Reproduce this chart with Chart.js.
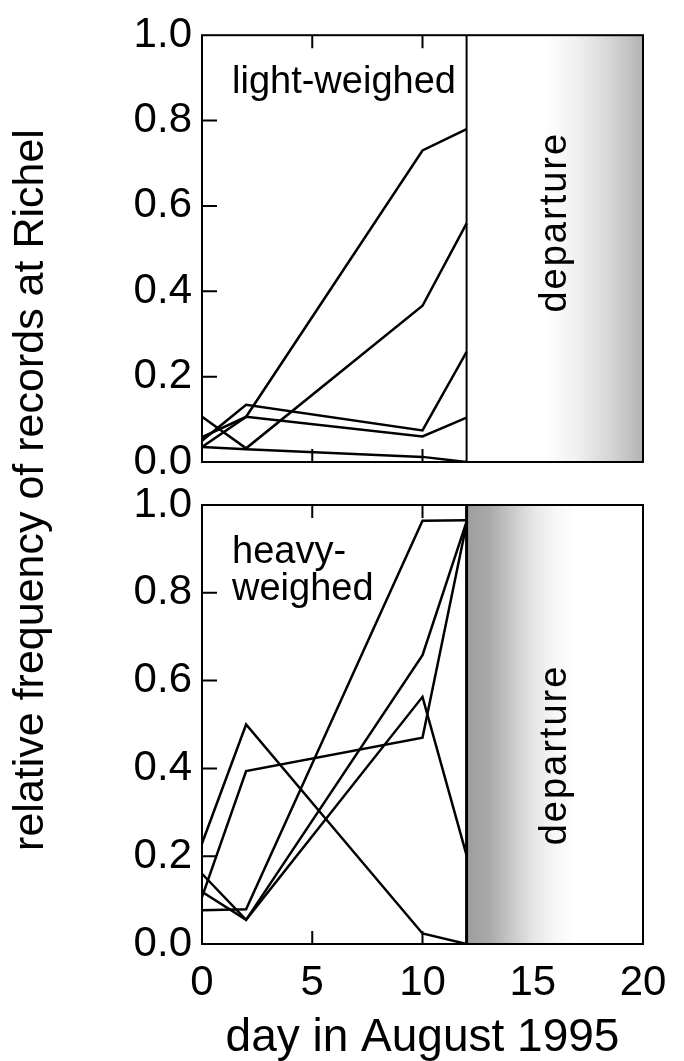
<!DOCTYPE html>
<html lang="en">
<head>
<meta charset="UTF-8">
<title>Records at Richel</title>
<script src="https://cdn.jsdelivr.net/npm/chart.js@4.4.0/dist/chart.umd.min.js"></script>
<style>
  body { margin: 0; background: #fff; }
  #wrap { position: relative; width: 684px; height: 1061px; }
  #wrap canvas { position: absolute; left: 0; top: 0; }
</style>
</head>
<body>
<div id="wrap">
  <canvas id="topChart" width="684" height="1061"></canvas>
  <canvas id="bottomChart" width="684" height="1061"></canvas>
</div>
<script>
// days sampled (August 1995)
var days = [0, 2, 10, 12];

// light-weighed birds, one array per bird
var light1 = [0.035, 0.106, 0.730, 0.780];
var light2 = [0.106, 0.032, 0.366, 0.559];
var light3 = [0.050, 0.134, 0.074, 0.258];
var light4 = [0.058, 0.106, 0.060, 0.104];
var light5 = [0.035, 0.030, 0.012, 0.000];

// heavy-weighed birds
var heavy1 = [0.229, 0.500, 0.024, 0.000];
var heavy2 = [0.107, 0.394, 0.470, 0.958];
var heavy3 = [0.077, 0.079, 0.964, 0.965];
var heavy4 = [0.160, 0.055, 0.658, 0.962];
var heavy5 = [0.119, 0.055, 0.563, 0.202];

var yTicks = [0, 0.2, 0.4, 0.6, 0.8, 1.0];
var xTicks = [0, 5, 10, 15, 20];
var departureDay = 12;
var lastDay = 20;

var FONT = '"Liberation Sans", Arial, Helvetica, sans-serif';

function toPoints(vals) {
    return days.map(function (d, i) { return { x: d, y: vals[i] }; });
}

function makeSets(list) {
    return list.map(function (vals) {
        return {
            data: toPoints(vals),
            borderColor: '#000',
            borderWidth: 2.5,
            pointRadius: 0,
            tension: 0,
            fill: false
        };
    });
}

// draws shading, frame, inside ticks and the panel texts
function panelPlugin(opts) {
    return {
        id: 'panel',
        beforeDatasetsDraw: function (chart) {
            var ctx = chart.ctx, a = chart.chartArea, x = chart.scales.x;
            var x0 = x.getPixelForValue(departureDay), x1 = x.getPixelForValue(lastDay);
            var g = ctx.createLinearGradient(x0, 0, x1, 0);
            opts.shade.forEach(function (s) {
                g.addColorStop((s[0] - departureDay) / (lastDay - departureDay), 'rgba(0,0,0,' + s[1] + ')');
            });
            ctx.save();
            ctx.fillStyle = g;
            ctx.fillRect(x0, a.top, x1 - x0, a.bottom - a.top);
            ctx.restore();
        },
        afterDatasetsDraw: function (chart) {
            var ctx = chart.ctx, a = chart.chartArea, x = chart.scales.x, y = chart.scales.y;
            ctx.save();
            ctx.strokeStyle = '#000';
            ctx.lineWidth = 2;
            ctx.strokeRect(a.left, a.top, a.right - a.left, a.bottom - a.top);
            // divider at departure
            var xd = x.getPixelForValue(departureDay);
            ctx.lineWidth = opts.divider;
            ctx.beginPath();
            ctx.moveTo(xd, a.top);
            ctx.lineTo(xd, a.bottom);
            ctx.stroke();
            // inside ticks
            ctx.lineWidth = 2;
            ctx.beginPath();
            yTicks.forEach(function (v) {
                if (v <= 0 || v >= 1) return;
                var py = y.getPixelForValue(v);
                ctx.moveTo(a.left, py);
                ctx.lineTo(a.left + 15, py);
            });
            xTicks.forEach(function (v) {
                if (v <= 0 || v >= departureDay) return;
                var px = x.getPixelForValue(v);
                ctx.moveTo(px, a.bottom);
                ctx.lineTo(px, a.bottom - 13);
                ctx.moveTo(px, a.top);
                ctx.lineTo(px, a.top + 13);
            });
            ctx.stroke();

            ctx.fillStyle = '#000';
            ctx.font = '38px ' + FONT;
            ctx.textAlign = 'left';
            ctx.textBaseline = 'alphabetic';
            opts.label.forEach(function (t, i) {
                ctx.fillText(t, a.left + 30, a.top + 58 + i * 37);
            });

            // departure, rotated
            ctx.save();
            ctx.translate(a.left + 354, a.top + opts.depY);
            ctx.rotate(-Math.PI / 2);
            ctx.font = '38px ' + FONT;
            ctx.letterSpacing = '2px';
            ctx.textAlign = 'center';
            ctx.textBaseline = 'middle';
            ctx.fillText('departure', 0, 0);
            ctx.restore();

            if (opts.yTitle) {
                ctx.save();
                ctx.translate(31, 490);
                ctx.rotate(-Math.PI / 2);
                ctx.font = '43px ' + FONT;
                ctx.textAlign = 'center';
                ctx.textBaseline = 'middle';
                ctx.fillText(opts.yTitle, 0, 0);
                ctx.restore();
            }
            ctx.restore();
        }
    };
}

function makeOptions(isBottom) {
    return {
        responsive: false,
        animation: false,
        layout: {
            padding: isBottom ? { top: 505, right: 41, bottom: 0, left: 0 }
                              : { top: 27, right: 41, bottom: 599, left: 0 }
        },
        plugins: { legend: { display: false }, tooltip: { enabled: false } },
        scales: {
            x: {
                type: 'linear',
                min: 0,
                max: lastDay,
                afterBuildTicks: function (s) { s.ticks = xTicks.map(function (v) { return { value: v }; }); },
                afterFit: function (s) { s.height = isBottom ? 117 : 0; },
                grid: { display: false, drawTicks: false },
                border: { display: false },
                ticks: {
                    display: isBottom,
                    color: '#000',
                    padding: 14,
                    font: { family: FONT, size: 42 }
                },
                title: {
                    display: isBottom,
                    text: 'day in August 1995',
                    color: '#000',
                    padding: { top: 0, bottom: 0 },
                    font: { family: FONT, size: 46, lineHeight: 1 }
                }
            },
            y: {
                type: 'linear',
                min: 0,
                max: 1,
                afterBuildTicks: function (s) { s.ticks = yTicks.map(function (v) { return { value: v }; }); },
                afterFit: function (s) { s.width = 202; },
                grid: { display: false, drawTicks: false },
                border: { display: false },
                ticks: {
                    color: '#000',
                    padding: 10,
                    font: { family: FONT, size: 42 },
                    callback: function (v) { return Number(v).toFixed(1); }
                }
            }
        }
    };
}

var topChart = new Chart(document.getElementById('topChart'), {
    type: 'line',
    data: { datasets: makeSets([light1, light2, light3, light4, light5]) },
    options: makeOptions(false),
    plugins: [panelPlugin({
        label: ['light-weighed'],
        depY: 187,
        divider: 2,
        shade: [[12, 0], [15.5, 0], [17, 0.06], [18.5, 0.16], [19.5, 0.25], [20, 0.3]]
    })]
});

var bottomChart = new Chart(document.getElementById('bottomChart'), {
    type: 'line',
    data: { datasets: makeSets([heavy1, heavy2, heavy3, heavy4, heavy5]) },
    options: makeOptions(true),
    plugins: [panelPlugin({
        label: ['heavy-', 'weighed'],
        depY: 250,
        divider: 3,
        shade: [[12, 0.38], [13, 0.34], [14, 0.22], [15, 0.1], [16, 0.03], [17, 0], [20, 0]],
        yTitle: 'relative frequency of records at Richel'
    })]
});
</script>
</body>
</html>
